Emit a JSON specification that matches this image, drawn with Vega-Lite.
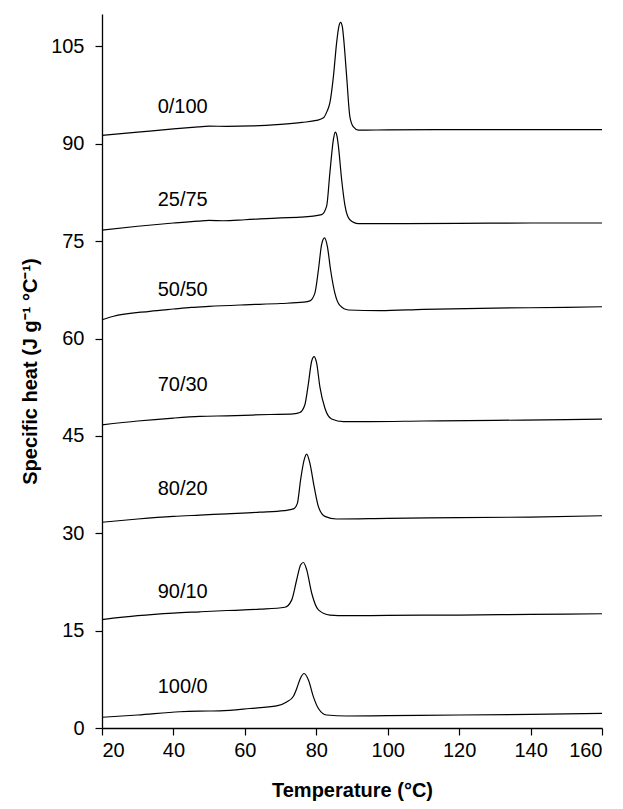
{
  "$schema": "https://vega.github.io/schema/vega-lite/v6.json",
  "width": 500,
  "height": 714,
  "autosize": {"type": "none"},
  "padding": {"left": 102, "top": 14, "right": 21, "bottom": 81},
  "background": "white",
  "config": {
    "view": {"stroke": null},
    "font": "Liberation Sans",
    "axis": {
      "grid": false,
      "domainColor": "black",
      "domainWidth": 1.3,
      "tickColor": "black",
      "tickWidth": 1.2,
      "tickSize": 7,
      "labelColor": "black",
      "labelFont": "Liberation Sans",
      "labelFontSize": 20,
      "titleColor": "black",
      "titleFont": "Liberation Sans",
      "titleFontSize": 20,
      "titleFontWeight": "bold"
    }
  },
  "datasets": {
    "curves": [
      {"s": "0/100", "t": 20, "v": 91.3}, {"s": "0/100", "t": 30, "v": 91.8}, {"s": "0/100", "t": 40, "v": 92.3}, {"s": "0/100", "t": 47, "v": 92.6}, {"s": "0/100", "t": 50, "v": 92.72}, {"s": "0/100", "t": 55, "v": 92.7}, {"s": "0/100", "t": 62, "v": 92.75}, {"s": "0/100", "t": 70, "v": 93.0}, {"s": "0/100", "t": 76, "v": 93.3}, {"s": "0/100", "t": 80, "v": 93.6}, {"s": "0/100", "t": 82, "v": 94.0}, {"s": "0/100", "t": 83, "v": 95.0}, {"s": "0/100", "t": 83.8, "v": 96.3}, {"s": "0/100", "t": 84.8, "v": 100.4}, {"s": "0/100", "t": 85.7, "v": 105.6}, {"s": "0/100", "t": 86.3, "v": 108.0}, {"s": "0/100", "t": 86.8, "v": 108.7}, {"s": "0/100", "t": 87.3, "v": 108.0}, {"s": "0/100", "t": 87.6, "v": 106.6}, {"s": "0/100", "t": 88.5, "v": 100.4}, {"s": "0/100", "t": 89.4, "v": 94.2}, {"s": "0/100", "t": 90.4, "v": 92.6}, {"s": "0/100", "t": 91.8, "v": 92.1}, {"s": "0/100", "t": 100, "v": 92.15}, {"s": "0/100", "t": 120, "v": 92.2}, {"s": "0/100", "t": 140, "v": 92.2}, {"s": "0/100", "t": 160, "v": 92.2},
      {"s": "25/75", "t": 20, "v": 76.7}, {"s": "25/75", "t": 30, "v": 77.3}, {"s": "25/75", "t": 40, "v": 77.8}, {"s": "25/75", "t": 47, "v": 78.1}, {"s": "25/75", "t": 50, "v": 78.2}, {"s": "25/75", "t": 54, "v": 78.15}, {"s": "25/75", "t": 60, "v": 78.3}, {"s": "25/75", "t": 70, "v": 78.6}, {"s": "25/75", "t": 75.4, "v": 78.7}, {"s": "25/75", "t": 81.5, "v": 79.1}, {"s": "25/75", "t": 82.9, "v": 80.4}, {"s": "25/75", "t": 83.8, "v": 85.5}, {"s": "25/75", "t": 84.8, "v": 90.7}, {"s": "25/75", "t": 85.3, "v": 91.8}, {"s": "25/75", "t": 85.8, "v": 91.2}, {"s": "25/75", "t": 86.2, "v": 89.6}, {"s": "25/75", "t": 87.1, "v": 84.5}, {"s": "25/75", "t": 88.0, "v": 80.6}, {"s": "25/75", "t": 89.4, "v": 78.3}, {"s": "25/75", "t": 91.8, "v": 77.7}, {"s": "25/75", "t": 100, "v": 77.7}, {"s": "25/75", "t": 120, "v": 77.75}, {"s": "25/75", "t": 140, "v": 77.8}, {"s": "25/75", "t": 160, "v": 77.8},
      {"s": "50/50", "t": 20, "v": 62.9}, {"s": "50/50", "t": 23, "v": 63.4}, {"s": "50/50", "t": 33.4, "v": 64.2}, {"s": "50/50", "t": 40, "v": 64.55}, {"s": "50/50", "t": 45, "v": 64.8}, {"s": "50/50", "t": 50, "v": 64.96}, {"s": "50/50", "t": 60, "v": 65.2}, {"s": "50/50", "t": 70, "v": 65.4}, {"s": "50/50", "t": 76.4, "v": 65.6}, {"s": "50/50", "t": 78.2, "v": 65.8}, {"s": "50/50", "t": 79.6, "v": 67.0}, {"s": "50/50", "t": 80.6, "v": 70.6}, {"s": "50/50", "t": 81.5, "v": 74.5}, {"s": "50/50", "t": 82.3, "v": 75.5}, {"s": "50/50", "t": 83.1, "v": 74.2}, {"s": "50/50", "t": 84.0, "v": 70.6}, {"s": "50/50", "t": 85.2, "v": 67.0}, {"s": "50/50", "t": 86.6, "v": 65.1}, {"s": "50/50", "t": 89.0, "v": 64.4}, {"s": "50/50", "t": 97.8, "v": 64.3}, {"s": "50/50", "t": 110, "v": 64.5}, {"s": "50/50", "t": 130, "v": 64.7}, {"s": "50/50", "t": 150, "v": 64.8}, {"s": "50/50", "t": 160, "v": 64.9},
      {"s": "70/30", "t": 20, "v": 46.7}, {"s": "70/30", "t": 30, "v": 47.3}, {"s": "70/30", "t": 40, "v": 47.75}, {"s": "70/30", "t": 47.4, "v": 48.0}, {"s": "70/30", "t": 55, "v": 48.1}, {"s": "70/30", "t": 67, "v": 48.3}, {"s": "70/30", "t": 73.6, "v": 48.4}, {"s": "70/30", "t": 75.4, "v": 48.6}, {"s": "70/30", "t": 76.8, "v": 49.8}, {"s": "70/30", "t": 77.8, "v": 53.1}, {"s": "70/30", "t": 78.7, "v": 56.5}, {"s": "70/30", "t": 79.4, "v": 57.2}, {"s": "70/30", "t": 80.1, "v": 56.2}, {"s": "70/30", "t": 81.0, "v": 52.6}, {"s": "70/30", "t": 82.4, "v": 49.3}, {"s": "70/30", "t": 84.3, "v": 47.6}, {"s": "70/30", "t": 87.6, "v": 47.2}, {"s": "70/30", "t": 95, "v": 47.2}, {"s": "70/30", "t": 110, "v": 47.3}, {"s": "70/30", "t": 130, "v": 47.4}, {"s": "70/30", "t": 150, "v": 47.5}, {"s": "70/30", "t": 160, "v": 47.6},
      {"s": "80/20", "t": 20, "v": 31.7}, {"s": "80/20", "t": 30, "v": 32.2}, {"s": "80/20", "t": 40, "v": 32.6}, {"s": "80/20", "t": 47.4, "v": 32.8}, {"s": "80/20", "t": 55, "v": 33.0}, {"s": "80/20", "t": 64.2, "v": 33.25}, {"s": "80/20", "t": 71, "v": 33.5}, {"s": "80/20", "t": 73.6, "v": 33.75}, {"s": "80/20", "t": 74.7, "v": 34.6}, {"s": "80/20", "t": 75.6, "v": 38.2}, {"s": "80/20", "t": 76.6, "v": 41.3}, {"s": "80/20", "t": 77.3, "v": 42.2}, {"s": "80/20", "t": 78.2, "v": 40.8}, {"s": "80/20", "t": 79.4, "v": 37.2}, {"s": "80/20", "t": 80.6, "v": 34.1}, {"s": "80/20", "t": 82.4, "v": 32.6}, {"s": "80/20", "t": 85.7, "v": 32.2}, {"s": "80/20", "t": 100, "v": 32.3}, {"s": "80/20", "t": 120, "v": 32.4}, {"s": "80/20", "t": 140, "v": 32.5}, {"s": "80/20", "t": 160, "v": 32.7},
      {"s": "90/10", "t": 20, "v": 16.7}, {"s": "90/10", "t": 30, "v": 17.3}, {"s": "90/10", "t": 40, "v": 17.7}, {"s": "90/10", "t": 47.4, "v": 17.9}, {"s": "90/10", "t": 55, "v": 18.1}, {"s": "90/10", "t": 64.2, "v": 18.3}, {"s": "90/10", "t": 71.2, "v": 18.6}, {"s": "90/10", "t": 73.1, "v": 19.7}, {"s": "90/10", "t": 74.5, "v": 22.8}, {"s": "90/10", "t": 75.6, "v": 25.1}, {"s": "90/10", "t": 76.4, "v": 25.5}, {"s": "90/10", "t": 77.3, "v": 24.4}, {"s": "90/10", "t": 78.7, "v": 20.8}, {"s": "90/10", "t": 80.6, "v": 18.2}, {"s": "90/10", "t": 83.8, "v": 17.4}, {"s": "90/10", "t": 88.5, "v": 17.3}, {"s": "90/10", "t": 100, "v": 17.35}, {"s": "90/10", "t": 120, "v": 17.4}, {"s": "90/10", "t": 140, "v": 17.5}, {"s": "90/10", "t": 160, "v": 17.6},
      {"s": "100/0", "t": 20, "v": 1.65}, {"s": "100/0", "t": 30, "v": 2.0}, {"s": "100/0", "t": 41.8, "v": 2.5}, {"s": "100/0", "t": 47, "v": 2.6}, {"s": "100/0", "t": 53, "v": 2.65}, {"s": "100/0", "t": 61.4, "v": 3.0}, {"s": "100/0", "t": 68.9, "v": 3.4}, {"s": "100/0", "t": 71.7, "v": 4.0}, {"s": "100/0", "t": 73.6, "v": 4.9}, {"s": "100/0", "t": 74.6, "v": 6.2}, {"s": "100/0", "t": 75.5, "v": 7.6}, {"s": "100/0", "t": 76.6, "v": 8.4}, {"s": "100/0", "t": 77.8, "v": 7.4}, {"s": "100/0", "t": 79.2, "v": 4.8}, {"s": "100/0", "t": 80.6, "v": 3.0}, {"s": "100/0", "t": 82.9, "v": 2.0}, {"s": "100/0", "t": 88.5, "v": 1.85}, {"s": "100/0", "t": 100, "v": 1.9}, {"s": "100/0", "t": 120, "v": 2.0}, {"s": "100/0", "t": 140, "v": 2.1}, {"s": "100/0", "t": 160, "v": 2.26}
    ],
    "labels": [
      {"s": "0/100", "t": 42.6, "v": 95.7},
      {"s": "25/75", "t": 42.6, "v": 81.3},
      {"s": "50/50", "t": 42.6, "v": 67.5},
      {"s": "70/30", "t": 42.6, "v": 52.9},
      {"s": "80/20", "t": 42.6, "v": 36.8},
      {"s": "90/10", "t": 42.6, "v": 20.9},
      {"s": "100/0", "t": 42.6, "v": 6.3}
    ]
  },
  "layer": [
    {
      "data": {"name": "curves"},
      "mark": {"type": "line", "color": "black", "strokeWidth": 1.2, "interpolate": "monotone"},
      "encoding": {
        "x": {"field": "t", "type": "quantitative", "scale": {"domain": [20, 160], "nice": false},
          "axis": {"values": [20, 40, 60, 80, 100, 120, 140, 160], "title": "Temperature (°C)", "labelPadding": 5, "titlePadding": 20}},
        "y": {"field": "v", "type": "quantitative", "scale": {"domain": [0, 110], "nice": false},
          "axis": {"values": [0, 15, 30, 45, 60, 75, 90, 105], "title": "Specific heat (J g⁻¹ °C⁻¹)", "labelPadding": 11, "titlePadding": 10}},
        "detail": {"field": "s", "type": "nominal"}
      }
    },
    {
      "data": {"name": "labels"},
      "mark": {"type": "text", "color": "black", "fontSize": 20, "font": "Liberation Sans", "align": "center", "baseline": "middle"},
      "encoding": {
        "x": {"field": "t", "type": "quantitative"},
        "y": {"field": "v", "type": "quantitative"},
        "text": {"field": "s", "type": "nominal"}
      }
    }
  ]
}
